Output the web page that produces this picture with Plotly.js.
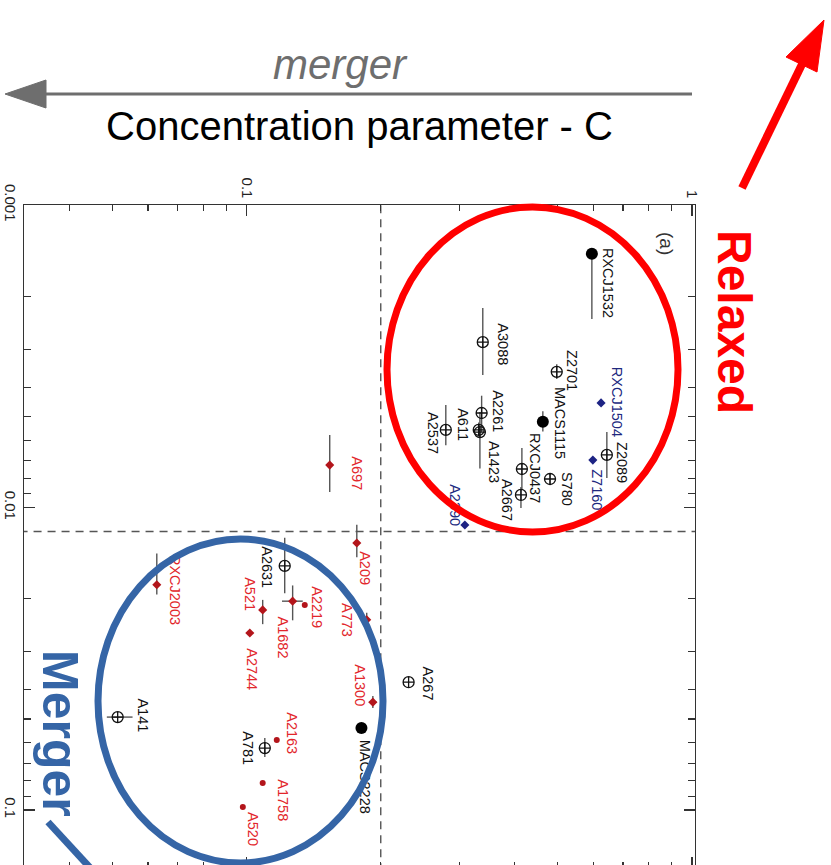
<!DOCTYPE html>
<html>
<head>
<meta charset="utf-8">
<script src="https://cdn.plot.ly/plotly-3.0.1.min.js"></script>
<style>
  html, body { margin: 0; padding: 0; overflow: hidden; background: #fff; }
  #wrap { position: relative; width: 831px; height: 865px; overflow: hidden; }
  #chart, #overlay { position: absolute; left: 0; top: 0; }
  #overlay { pointer-events: none; }
</style>
</head>
<body>
<div id="wrap">
  <div id="chart"></div>
  <div id="overlay"></div>
</div>
<script>
// Centroid shift w versus concentration parameter C (log-log), drawn rotated:
// C runs along the top axis, w runs down the left axis.

// Thresholds separating relaxed and merging clusters
const C_CUT = 0.2;
const W_CUT = 0.012;

// Clusters with a filled marker
const solidNames = ['RXCJ1532', 'MACS1115', 'MACS2228'];
const solidC     = [0.596, 0.4625, 0.181];
const solidW     = [0.00145, 0.00521, 0.0536];
const solidWHi   = [0.00093, 0.0004, 0];
const solidWLo   = [0, 0.0004, 0];

// Clusters without radio halo
const openNames = ['A3088', 'Z2701', 'A2261', 'A611', 'A1423', 'A2537', 'RXCJ0437', 'S780',
                   'A2667', 'Z2089', 'A2631', 'A141', 'A267', 'A781'];
const openC     = [0.339, 0.497, 0.337, 0.332, 0.334, 0.280, 0.415, 0.480,
                   0.413, 0.644, 0.1217, 0.0513, 0.231, 0.1098];
const openW     = [0.00284, 0.00356, 0.00487, 0.00554, 0.00563, 0.00554, 0.00746, 0.00805,
                   0.00909, 0.0067, 0.0156, 0.0493, 0.0378, 0.0624];
const openWHi   = [0.00081, 0.0002, 0.00076, 0.0003, 0.0018, 0.00068, 0.0013, 0.0003,
                   0.00095, 0.00129, 0.0036, 0, 0, 0.0044];
const openWLo   = [0.00065, 0.0002, 0.0006, 0.0003, 0.0008, 0.00096, 0.0011, 0.0003,
                   0.00054, 0.00107, 0.003, 0, 0, 0.0046];
const openCHi   = [0, 0, 0, 0, 0, 0, 0, 0, 0, 0, 0, 0.0041, 0, 0];
const openCLo   = [0, 0, 0, 0, 0, 0, 0, 0, 0, 0, 0, 0.0028, 0, 0];

// Radio halo clusters (diamonds)
const haloNames = ['A697', 'A209', 'A1682', 'A521', 'A2744', 'A773', 'RXCJ2003', 'A1300'];
const haloC     = [0.1536, 0.1767, 0.1268, 0.1086, 0.1016, 0.186, 0.0628, 0.192];
const haloW     = [0.00724, 0.0131, 0.0204, 0.0218, 0.026, 0.0235, 0.018, 0.044];
const haloWHi   = [0.00165, 0.0015, 0.0032, 0.0025, 0, 0.0012, 0.0014, 0.002];
const haloWLo   = [0.00148, 0.0017, 0.0023, 0.0016, 0, 0.0012, 0.0038, 0.002];
const haloCHi   = [0, 0, 0.0068, 0, 0, 0, 0, 0.004];
const haloCLo   = [0, 0, 0.0068, 0, 0, 0, 0, 0.004];

// Radio halo clusters (dots)
const dotNames = ['A2219', 'A2163', 'A1758', 'A520'];
const dotC     = [0.135, 0.1168, 0.1086, 0.098];
const dotW     = [0.021, 0.0587, 0.0814, 0.0977];

// Mini-halo clusters
const miniNames = ['RXCJ1504', 'Z7160', 'A2390'];
const miniC     = [0.625, 0.599, 0.309];
const miniW     = [0.00451, 0.00697, 0.01143];

// Axis ticks
const cTicks = [0.1, 1];
const cTickText = ['0.1', '1'];
const cMinor = [0.04, 0.05, 0.06, 0.07, 0.08, 0.09, 0.2, 0.3, 0.4, 0.5, 0.6, 0.7, 0.8, 0.9];
const wTicks = [0.001, 0.01, 0.1];
const wTickText = ['0.001', '0.01', '0.1'];
const wMinor = [0.002, 0.003, 0.004, 0.005, 0.006, 0.007, 0.008, 0.009,
                0.02, 0.03, 0.04, 0.05, 0.06, 0.07, 0.08, 0.09, 0.2];

// ---- styling ----
const FONT = 'Liberation Sans, Arial, Helvetica, sans-serif';
const BLACK = '#111';
const RED_MARK = '#b3151b';
const RED_TEXT = '#e2262b';
const BLUE_MARK = '#1d2384';
const BLUE_TEXT = '#20287e';
const ERR = '#555';

// label placement (pixel offsets from the marker; +dy is downward)
const labelOffset = {
  RXCJ1532: [16, 29], MACS1115: [17, 1], MACS2228: [3, 49],
  A3088: [20, 2], Z2701: [15, -1], A2261: [16, -2], A611: [-16, -5], A1423: [14, 30],
  A2537: [-13, 3], RXCJ0437: [13, -1], S780: [17, 10], A2667: [-14, 5], Z2089: [15, 8],
  A2631: [-18, 1], A141: [25, -2], A267: [19, 1], A781: [-17, 0],
  A697: [27, 8], A209: [8, 25], A1682: [-10, 36], A521: [-13, -16], A2744: [2, 36],
  A773: [-19, 0], RXCJ2003: [18, 5], A1300: [-13, -17],
  A2219: [12, 2], A2163: [15, -7], A1758: [20, 17], A520: [10, 22],
  RXCJ1504: [16, -1], Z7160: [4, 30], A2390: [-10, -20]
};

function errBar(hi, lo) {
  return { type: 'data', symmetric: false, array: hi, arrayminus: lo,
           color: ERR, thickness: 1.4, width: 0 };
}

const traces = [
  { x: [C_CUT, C_CUT], y: [0.0009, 0.3], mode: 'lines',
    line: { color: '#555', width: 1.4, dash: '8px,6px' }, hoverinfo: 'skip' },
  { x: [0.02, 1.2], y: [W_CUT, W_CUT], mode: 'lines',
    line: { color: '#555', width: 1.4, dash: '8px,6px' }, hoverinfo: 'skip' },
  { x: solidC, y: solidW, text: solidNames, mode: 'markers',
    error_y: errBar(solidWHi, solidWLo),
    marker: { symbol: 'circle', size: 12, color: '#000' } },
  { x: openC, y: openW, text: openNames, mode: 'markers',
    error_y: errBar(openWHi, openWLo), error_x: errBar(openCHi, openCLo),
    marker: { symbol: 'circle-cross-open', size: 11, color: BLACK, line: { width: 1.3 } } },
  { x: haloC, y: haloW, text: haloNames, mode: 'markers',
    error_y: errBar(haloWHi, haloWLo), error_x: errBar(haloCHi, haloCLo),
    marker: { symbol: 'diamond', size: 7, color: RED_MARK } },
  { x: dotC, y: dotW, text: dotNames, mode: 'markers',
    marker: { symbol: 'circle', size: 6, color: RED_MARK } },
  { x: miniC, y: miniW, text: miniNames, mode: 'markers',
    marker: { symbol: 'diamond', size: 7, color: BLUE_MARK } }
];

// rotated name labels next to each cluster
const annotations = [];
function addLabels(names, cs, ws, color) {
  names.forEach((n, i) => {
    const off = labelOffset[n] || [12, 0];
    annotations.push({
      x: Math.log10(cs[i]), y: Math.log10(ws[i]), xref: 'x', yref: 'y',
      text: n, showarrow: false, textangle: 90,
      xanchor: 'center', yanchor: 'middle',
      xshift: off[0], yshift: -off[1],
      font: { family: FONT, size: 14.5, color: color }
    });
  });
}
addLabels(solidNames, solidC, solidW, BLACK);
addLabels(openNames, openC, openW, BLACK);
addLabels(haloNames, haloC, haloW, RED_TEXT);
addLabels(dotNames, dotC, dotW, RED_TEXT);
addLabels(miniNames, miniC, miniW, BLUE_TEXT);

const axisCommon = {
  type: 'log', showline: true, linecolor: '#333', linewidth: 1.3,
  mirror: 'allticks', ticks: 'inside', ticklen: 11, tickwidth: 1.2, tickcolor: '#333',
  tickmode: 'array', tickangle: 90, showgrid: false, zeroline: false,
  tickfont: { family: FONT, size: 15, color: '#222' }
};

const layout = {
  width: 831, height: 868,
  margin: { l: 24, r: 136, t: 205, b: 0, pad: 0 },
  paper_bgcolor: '#fff', plot_bgcolor: '#fff',
  showlegend: false,
  font: { family: FONT, color: '#222' },
  xaxis: Object.assign({}, axisCommon, {
    side: 'top',
    range: [Math.log10(0.0316), Math.log10(1.016)],
    tickvals: cTicks, ticktext: cTickText,
    minor: { tickmode: 'array', tickvals: cMinor, ticks: 'inside', ticklen: 6,
             tickwidth: 1.1, tickcolor: '#333', showgrid: false },
    title: { text: 'Concentration parameter - C', standoff: 24,
             font: { family: FONT, size: 40, color: '#000' } }
  }),
  yaxis: Object.assign({}, axisCommon, {
    range: [-0.8083, -3],
    tickvals: wTicks, ticktext: wTickText,
    minor: { tickmode: 'array', tickvals: wMinor, ticks: 'inside', ticklen: 7,
             tickwidth: 1.1, tickcolor: '#333', showgrid: false }
  }),
  annotations: annotations
};

Plotly.newPlot('chart', traces, layout, { staticPlot: true, displayModeBar: false });

// ---- overlay: circled groups, arrows and captions (pixel coordinates) ----
const REL_RED = '#ff0000';
const MRG_BLUE = '#3565a6';
const GREY = '#6e6e6e';

const overlayLayout = {
  width: 831, height: 868,
  margin: { l: 0, r: 0, t: 0, b: 0, pad: 0 },
  paper_bgcolor: 'rgba(0,0,0,0)', plot_bgcolor: 'rgba(0,0,0,0)',
  showlegend: false,
  xaxis: { range: [0, 831], visible: false, fixedrange: true },
  yaxis: { range: [868, 0], visible: false, fixedrange: true },
  shapes: [
    { type: 'circle', xref: 'x', yref: 'y', x0: 387, x1: 678, y0: 207, y1: 532,
      line: { color: REL_RED, width: 7 } },
    { type: 'circle', xref: 'x', yref: 'y', x0: 98, x1: 383, y0: 539, y1: 863,
      line: { color: MRG_BLUE, width: 7 } },
    { type: 'line', xref: 'x', yref: 'y', x0: 692, y0: 94, x1: 40, y1: 94,
      line: { color: GREY, width: 3 } },
    { type: 'path', xref: 'x', yref: 'y', path: 'M 5 94 L 46 80 L 46 108 Z',
      fillcolor: GREY, line: { color: GREY, width: 1 } },
    { type: 'line', xref: 'x', yref: 'y', x0: 742, y0: 188, x1: 806, y1: 56,
      line: { color: REL_RED, width: 8 } },
    { type: 'path', xref: 'x', yref: 'y', path: 'M 824 20 L 817 72 L 786 57 Z',
      fillcolor: REL_RED, line: { color: REL_RED, width: 1 } },
    { type: 'line', xref: 'x', yref: 'y', x0: 48, y0: 822, x1: 94, y1: 872,
      line: { color: MRG_BLUE, width: 7 } }
  ],
  annotations: [
    { x: 340, y: 64, xref: 'x', yref: 'y', text: '<i>merger</i>', showarrow: false,
      font: { family: FONT, size: 42, color: GREY } },
    { x: 735, y: 322, xref: 'x', yref: 'y', text: '<b>Relaxed</b>', showarrow: false,
      textangle: 90, font: { family: FONT, size: 48, color: REL_RED } },
    { x: 60, y: 733, xref: 'x', yref: 'y', text: '<b>Merger</b>', showarrow: false,
      textangle: 90, font: { family: FONT, size: 50, color: MRG_BLUE } },
    { x: 667, y: 243, xref: 'x', yref: 'y', text: '(a)', showarrow: false,
      textangle: 90, font: { family: FONT, size: 19, color: '#333' } }
  ]
};

Plotly.newPlot('overlay', [], overlayLayout, { staticPlot: true, displayModeBar: false });
</script>
</body>
</html>
